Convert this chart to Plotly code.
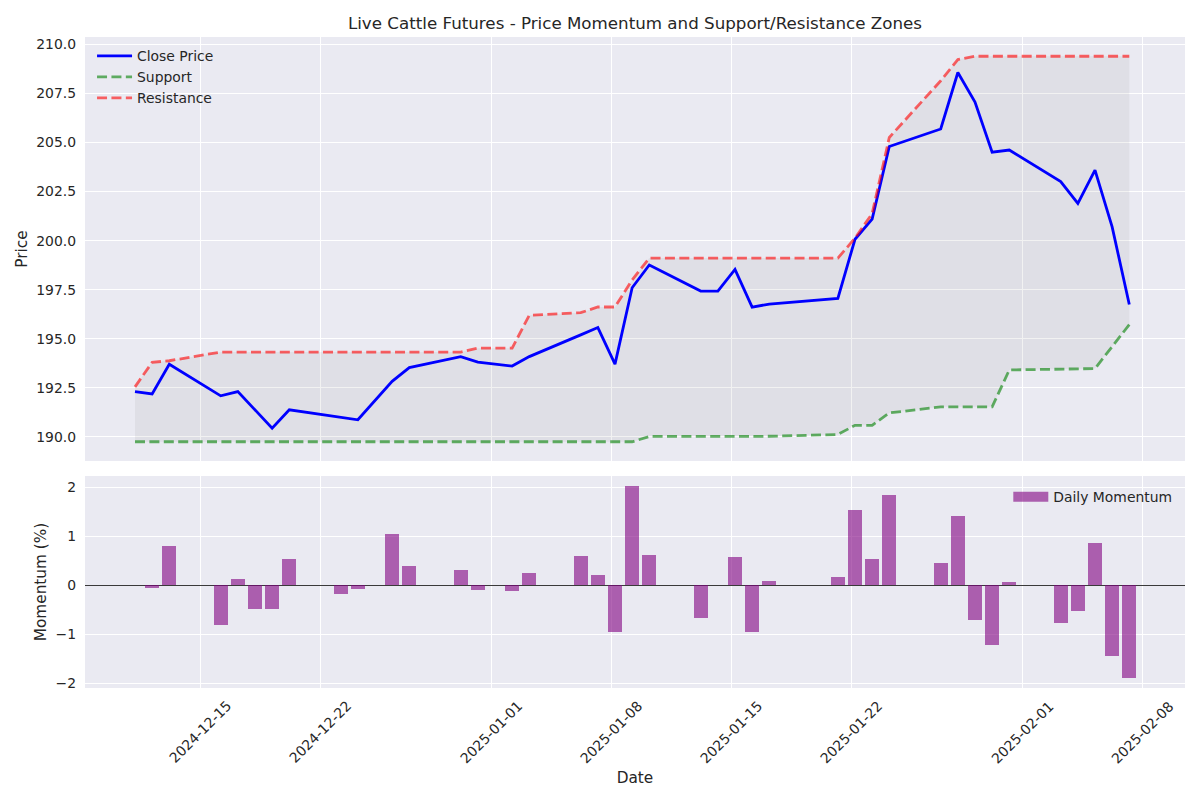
import plotly.graph_objects as go

# ---------------- data ----------------
dates = [
    "2024-12-11", "2024-12-12", "2024-12-13", "2024-12-16", "2024-12-17",
    "2024-12-18", "2024-12-19", "2024-12-20", "2024-12-23", "2024-12-24",
    "2024-12-26", "2024-12-27", "2024-12-30", "2024-12-31", "2025-01-02",
    "2025-01-03", "2025-01-06", "2025-01-07", "2025-01-08", "2025-01-09",
    "2025-01-10", "2025-01-13", "2025-01-14", "2025-01-15", "2025-01-16",
    "2025-01-17", "2025-01-21", "2025-01-22", "2025-01-23", "2025-01-24",
    "2025-01-27", "2025-01-28", "2025-01-29", "2025-01-30", "2025-01-31",
    "2025-02-03", "2025-02-04", "2025-02-05", "2025-02-06", "2025-02-07",
]

close_price = [
    192.31, 192.19, 193.70, 192.09, 192.31, 191.40, 190.44, 191.38, 191.00, 190.87,
    192.83, 193.53, 194.09, 193.81, 193.61, 194.09, 195.20, 195.57, 193.71, 197.60,
    198.76, 197.43, 197.43, 198.54, 196.61, 196.77, 197.06, 200.07, 201.10, 204.80,
    205.69, 208.57, 207.06, 204.51, 204.62, 203.01, 201.90, 203.60, 200.70, 196.75,
]

support = [
    189.75, 189.75, 189.75, 189.75, 189.75, 189.75, 189.75, 189.75, 189.75, 189.75,
    189.75, 189.75, 189.75, 189.75, 189.75, 189.75, 189.75, 189.75, 189.75, 189.75,
    190.02, 190.02, 190.02, 190.02, 190.02, 190.03, 190.12, 190.59, 190.59, 191.22,
    191.53, 191.53, 191.53, 191.53, 193.41, 193.46, 193.47, 193.48, 194.60, 195.72,
]

resistance = [
    192.55, 193.80, 193.88, 194.32, 194.32, 194.32, 194.32, 194.32, 194.32, 194.32,
    194.32, 194.32, 194.32, 194.52, 194.52, 196.20, 196.33, 196.62, 196.62, 198.00,
    199.11, 199.11, 199.11, 199.11, 199.11, 199.11, 199.11, 200.13, 201.38, 205.26,
    208.15, 209.23, 209.40, 209.40, 209.40, 209.40, 209.40, 209.40, 209.40, 209.40,
]

momentum = [
    None, -0.05, 0.80, -0.82, 0.13, -0.48, -0.48, 0.54, -0.17, -0.07,
    1.05, 0.39, 0.31, -0.09, -0.11, 0.25, 0.60, 0.21, -0.95, 2.03,
    0.62, -0.66, 0.00, 0.58, -0.95, 0.09, 0.17, 1.54, 0.54, 1.84,
    0.46, 1.41, -0.70, -1.22, 0.07, -0.78, -0.52, 0.86, -1.44, -1.90,
]

tick_dates = ["2024-12-15", "2024-12-22", "2025-01-01", "2025-01-08",
              "2025-01-15", "2025-01-22", "2025-02-01", "2025-02-08"]
tick_labels = tick_dates

# ---------------- styling ----------------
FONT = "DejaVu Sans"
TXT = "#262626"
BG = "#EAEAF2"
x = [d + " 05:00" for d in dates]
DAY_MS = 86400000
BAR_COLOR = "rgba(128,0,128,0.6)"

fig = go.Figure()

# shaded zone between support and resistance
fig.add_trace(go.Scatter(x=x, y=support, mode="lines",
                         line=dict(width=0, color="rgba(0,0,0,0)"),
                         showlegend=False, hoverinfo="skip"))
fig.add_trace(go.Scatter(x=x, y=resistance, mode="lines",
                         line=dict(width=0, color="rgba(0,0,0,0)"),
                         fill="tonexty", fillcolor="rgba(128,128,128,0.1)",
                         showlegend=False, hoverinfo="skip"))

fig.add_trace(go.Scatter(x=x, y=close_price, mode="lines", name="Close Price",
                         line=dict(color="#0000FF", width=2.8)))
fig.add_trace(go.Scatter(x=x, y=support, mode="lines", name="Support",
                         line=dict(color="rgba(0,128,0,0.6)", width=2.8,
                                   dash="10px,4.4px")))
fig.add_trace(go.Scatter(x=x, y=resistance, mode="lines", name="Resistance",
                         line=dict(color="rgba(255,0,0,0.6)", width=2.8,
                                   dash="10px,4.4px")))

fig.add_trace(go.Bar(x=x, y=momentum, name="Daily Momentum",
                     width=0.8 * DAY_MS,
                     marker=dict(color=BAR_COLOR, line=dict(width=0)),
                     xaxis="x2", yaxis="y2", showlegend=False))
# legend-only proxy giving the wide rectangular patch of the reference legend
fig.add_trace(go.Scatter(x=[None], y=[None], mode="lines", name="Daily Momentum",
                         line=dict(color=BAR_COLOR, width=10),
                         xaxis="x2", yaxis="y2", legend="legend2",
                         hoverinfo="skip"))

x_range = ["2024-12-08 07:00", "2025-02-10 11:00"]
grid = dict(showgrid=True, gridcolor="white", gridwidth=1.4,
            showline=False, ticks="", zeroline=False)

TOP_LO = 0.3487
BOT_HI = 0.3257

fig.update_layout(
    width=1200, height=800,
    margin=dict(l=85, r=15, t=37, b=112),
    paper_bgcolor="white", plot_bgcolor=BG,
    font=dict(family=FONT, size=14, color=TXT),
    title=dict(text="Live Cattle Futures - Price Momentum and Support/Resistance Zones",
               x=0.5, xref="paper", xanchor="center",
               y=1 - 23 / 800, yref="container", yanchor="middle",
               font=dict(size=16.7, color=TXT)),
    xaxis=dict(domain=[0, 1], anchor="y", range=x_range, type="date",
               tickvals=tick_dates, showticklabels=False, **grid),
    yaxis=dict(domain=[TOP_LO, 1], anchor="x", range=[188.77, 210.38],
               tick0=190, dtick=2.5, tickformat=".1f", ticklabelstandoff=8,
               title=dict(text="Price", font=dict(size=15.3), standoff=4),
               tickfont=dict(size=13.9), **grid),
    xaxis2=dict(domain=[0, 1], anchor="y2", range=x_range, type="date",
                tickvals=tick_dates, showticklabels=False,
                title=dict(text="Date", font=dict(size=15.3), standoff=84),
                **grid),
    yaxis2=dict(domain=[0, BOT_HI], anchor="x2", range=[-2.097, 2.227],
                tick0=0, dtick=1, ticklabelstandoff=8,
                title=dict(text="Momentum (%)", font=dict(size=15.3), standoff=5),
                tickfont=dict(size=13.9),
                showgrid=True, gridcolor="white", gridwidth=1.4,
                showline=False, ticks="",
                zeroline=True, zerolinecolor="#3a3a3a", zerolinewidth=1.2),
    legend=dict(x=0.0064, y=0.995, xanchor="left", yanchor="top",
                traceorder="normal", itemwidth=35,
                bgcolor="rgba(0,0,0,0)", font=dict(size=13.9, color=TXT),
                tracegroupgap=0),
    legend2=dict(x=0.993, y=BOT_HI - 0.008, xanchor="right", yanchor="top",
                 itemwidth=35,
                 bgcolor="rgba(0,0,0,0)", font=dict(size=13.9, color=TXT)),
    showlegend=True,
    bargap=0,
)

# rotated date labels, centred under each tick like the reference
for d, lab in zip(tick_dates, tick_labels):
    fig.add_annotation(x=d, xref="x2", y=0, yref="paper",
                       text=lab, showarrow=False, textangle=-45,
                       xanchor="center", yanchor="top", yshift=-7,
                       font=dict(size=13.9, color=TXT, family=FONT))

fig.write_html("out.html")
